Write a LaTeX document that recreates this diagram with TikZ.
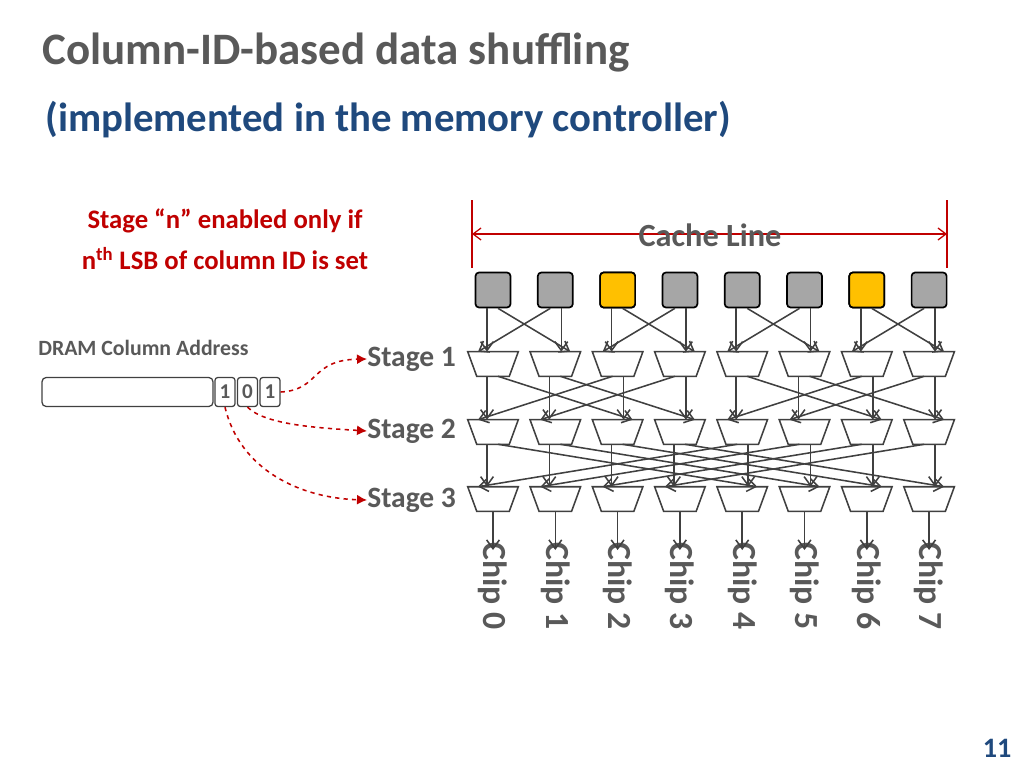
\documentclass[tikz,border=0pt]{standalone}
\usepackage{fontspec}
\setmainfont{Carlito}
\usetikzlibrary{arrows.meta,positioning,calc}
\definecolor{titlegray}{RGB}{89,89,89}
\definecolor{subblue}{RGB}{31,73,125}
\definecolor{darkred}{RGB}{192,0,0}
\definecolor{wire}{RGB}{64,64,64}
\definecolor{cellgray}{RGB}{166,166,166}
\definecolor{cellgold}{RGB}{255,192,0}
\tikzset{
  cell/.style   = {draw=black, line width=1.2pt, rounded corners=2.5pt,
                   minimum width=35*0.25mm, minimum height=35*0.25mm, fill=cellgray},
  mux/.style    = {rectangle, minimum width=50*0.25mm,
                   minimum height=24*0.25mm, inner sep=0pt},
  muxline/.style = {draw=wire, line width=1.1pt, fill=white, line join=miter},
  wireto/.style = {draw=wire, line width=1.1pt, -{Straight Barb[length=2.2mm,width=3.2mm]}},
  stage/.style  = {font=\fontsize{21}{24}\selectfont\bfseries, text=titlegray,
                   anchor=west, inner sep=0pt},
  chip/.style   = {font=\fontsize{24}{28}\selectfont\bfseries, text=titlegray,
                   rotate=-90, anchor=west, inner sep=0pt},
  bit/.style    = {draw=wire, line width=0.9pt, rounded corners=2pt,
                   minimum width=20*0.25mm, minimum height=29*0.25mm, inner sep=0pt,
                   font=\fontsize{15}{16}\selectfont\bfseries, text=titlegray},
  ctrl/.style   = {draw=darkred, line width=1.1pt, dashed, -{Latex[length=2.5mm,width=2.5mm]}}
}
\begin{document}
\begin{tikzpicture}[x=0.25mm,y=-0.25mm]
  \useasboundingbox (0,0) rectangle (1024,768);

  % titles
  \node[anchor=west, inner sep=0pt, text=titlegray,
        font=\fontsize{32}{36}\selectfont\bfseries] (title) at (42,53)
        {Column-ID-based data shuffling};
  \node[anchor=west, inner sep=0pt, text=subblue,
        font=\fontsize{29}{34}\selectfont\bfseries] (subtitle) at (45,120)
        {(implemented in the memory controller)};
  \node[align=center, inner sep=0pt, text=darkred,
        font=\fontsize{19}{29}\selectfont\bfseries] (cond) at (225,239)
        {Stage “n” enabled only if\\n\textsuperscript{th} LSB of column ID is set};
  \node[text=subblue, font=\fontsize{20}{24}\selectfont\bfseries] (page) at (997,748) {11};

  % cache line span
  \coordinate (cl0) at (472,234);
  \coordinate (cl1) at (947,234);
  \draw[darkred, line width=0.9pt] (472,200) -- (472,268) (947,200) -- (947,268);
  \draw[darkred, line width=0.9pt, {Straight Barb[length=2mm,width=3mm]}-{Straight Barb[length=2mm,width=3mm]}] (cl0) -- (cl1);
  \node[text=titlegray, font=\fontsize{23}{26}\selectfont\bfseries] (cache) at (710,235) {Cache Line};

  % cells, muxes and chips
  \foreach \i in {0,...,7}{
    \pgfmathsetmacro{\xx}{493+62.3*\i}
    \node[cell] (b\i) at (\xx,290) {};
    \node[mux] (m1\i) at (\xx,364) {};
    \node[mux] (m2\i) at (\xx,432) {};
    \node[mux] (m3\i) at (\xx,499) {};
    \foreach \k in {1,2,3}
      \draw[muxline] (m\k\i.north west) -- (m\k\i.north east)
        -- ($(m\k\i.south east)+(-9,0)$) -- ($(m\k\i.south west)+(9,0)$) -- cycle;
    \coordinate (o\i) at (\xx,550);
    \node[chip] (c\i) at (\xx,542) {Chip \i};
  }
  \node[cell, fill=cellgold] at (b2) {};
  \node[cell, fill=cellgold] at (b6) {};

  % butterfly wiring: stage k pairs i with i xor 2^(k-1)
  \foreach \k/\src/\dd in {1/b/1, 2/m1/2, 3/m2/4}{
    \foreach \j in {0,...,7}{
      \pgfmathtruncatemacro{\p}{mod(\j,2*\dd) < \dd ? \j+\dd : \j-\dd}
      \pgfmathtruncatemacro{\s}{\j < \p ? -1 : 1}
      \draw[wireto] ($(\src\j.south)+(6*\s,0)$) -- ($(m\k\j.north)+(6*\s,0)$);
      \draw[wireto] ($(\src\p.south)+(5*\s,0)$) -- ($(m\k\j.north)+(15*\s,0)$);
    }
  }
  \foreach \j in {0,...,7}
    \draw[wireto] (m3\j.south) -- (o\j);

  % stage labels
  \node[stage] (s1) at (367,359) {Stage 1};
  \node[stage] (s2) at (367,431) {Stage 2};
  \node[stage] (s3) at (367,500) {Stage 3};

  % column address
  \node[anchor=west, inner sep=0pt, text=titlegray,
        font=\fontsize{15.5}{18}\selectfont\bfseries] (addr) at (38,348) {DRAM Column Address};
  \node[draw=wire, line width=0.9pt, rounded corners=3pt, minimum width=171*0.25mm,
        minimum height=29*0.25mm] (reg) at (127.5,392) {};
  \node[bit] (a2) at (225,392) {1};
  \node[bit] (a1) at (247.5,392) {0};
  \node[bit] (a0) at (270,392) {1};
  \draw[ctrl] (a0.east) .. controls (320,390) and (310,360) .. (s1.west);
  \draw[ctrl] (a1.south) .. controls (265,425) and (320,428) .. (s2.west);
  \draw[ctrl] (a2.south) .. controls (240,470) and (300,498) .. (s3.west);
\end{tikzpicture}
\end{document}
